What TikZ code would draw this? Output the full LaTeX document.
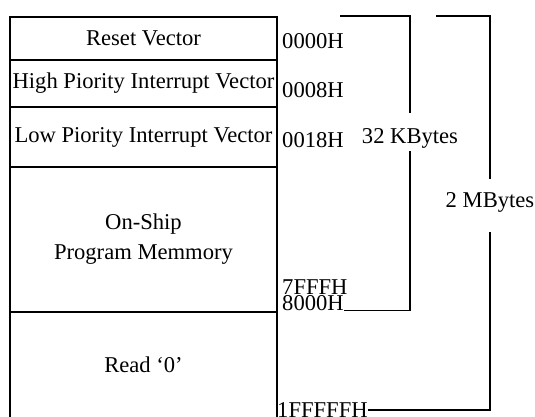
\documentclass[tikz,border=0pt]{standalone}
\usepackage{fontspec}
\setmainfont{Liberation Serif}
\usetikzlibrary{positioning}

\begin{document}
\begin{tikzpicture}[
    x=1pt, y=-1pt,
    font=\fontsize{22.6}{30}\selectfont,
    region/.style={
        draw, line width=1.1pt,
        minimum width=267pt, inner sep=0pt, outer sep=0pt,
        align=center
    },
    addr/.style={anchor=west, inner sep=0pt},
    bracket/.style={line width=1.1pt}
]
\useasboundingbox (0,0) rectangle (535,416);

% ===== MEMORY MAP =====
\node[region, minimum height=43pt] (reset) at (143.5,38.5) {Reset Vector};
\node[region, minimum height=47pt, below=0pt of reset] (hipri)
{High Piority Interrupt Vector};
\node[region, minimum height=60pt, below=0pt of hipri] (lopri)
{Low Piority Interrupt Vector};
\node[region, minimum height=145pt, below=0pt of lopri] (program)
{On-Ship\\Program Memmory};
\node[region, minimum height=106pt, below=0pt of program] (readzero)
{Read `0'};

% ===== ADDRESSES =====
\node[addr] (a0000) at (282,41) {0000H};
\node[addr] (a0008) at (282,90) {0008H};
\node[addr] (a0018) at (282,140) {0018H};
\node[addr] (a7fff) at (282,287) {7FFFH};
\node[addr] (a8000) at (282,303) {8000H};
\node[addr] (a1fffff) at (277,410) {1FFFFFH};

% ===== SIZES =====
\node (kb32) at (410,138) {32 KBytes};
\node (mb2) at (490,202) {2 MBytes};

\coordinate (kbtop) at (340,16);
\coordinate (mbtop) at (436,16);

% ===== BRACKETS =====
\draw[bracket] (kbtop) -| ([yshift=12pt]kb32.north);
\draw[bracket] (kb32.south) |- (a8000.base east);

\draw[bracket] (mbtop) -| ([yshift=10pt]mb2.north);
\draw[bracket] ([yshift=-17pt]mb2.south) |- (a1fffff.east);

\end{tikzpicture}
\end{document}
